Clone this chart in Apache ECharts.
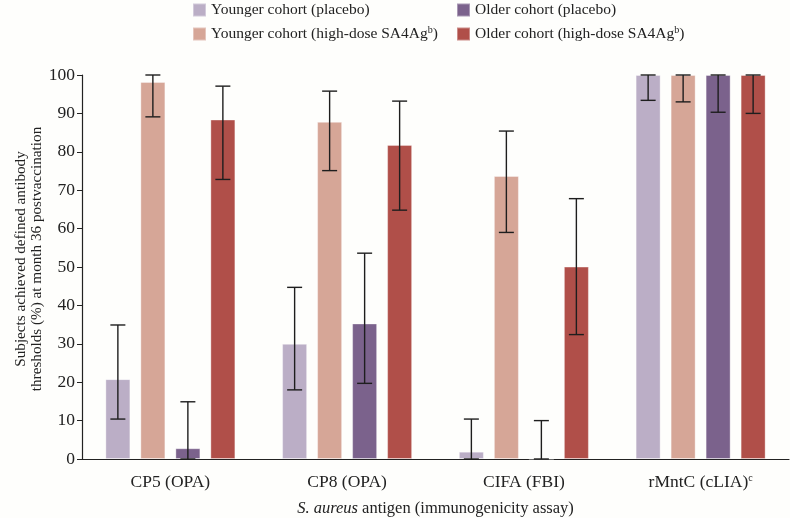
<!DOCTYPE html>
<html><head><meta charset="utf-8">
<script src="https://cdn.jsdelivr.net/npm/echarts@6/dist/echarts.min.js"></script>
<style>html,body{margin:0;padding:0;background:#fefefc}#c{width:790px;height:518px}</style>
</head><body><div id="c"></div>
<script>
const categories = ['CP5 (OPA)', 'CP8 (OPA)', 'CIFA (FBI)', 'rMntC (cLIA)'];
const seriesNames = ['Younger cohort (placebo)', 'Younger cohort (high-dose SA4Ag)', 'Older cohort (placebo)', 'Older cohort (high-dose SA4Ag)'];
const youngPlacebo = [20.8, 30.0, 1.9, 100];
const youngHigh = [98.2, 87.8, 73.7, 100];
const oldPlacebo = [2.8, 35.3, 0, 100];
const oldHigh = [88.4, 81.8, 50.1, 100];
const youngPlaceboLow = [10.4, 18.0, 0, 93.4];
const youngPlaceboHigh = [34.9, 44.7, 10.4, 100];
const youngHighLow = [89.1, 75.1, 59.0, 93.0];
const youngHighHigh = [100, 95.8, 85.4, 100];
const oldPlaceboLow = [0, 19.7, 0, 90.3];
const oldPlaceboHigh = [14.9, 53.6, 10.0, 100];
const oldHighLow = [72.8, 64.8, 32.4, 90.0];
const oldHighHigh = [97.1, 93.2, 67.8, 100];
const yTicks = [0, 10, 20, 30, 40, 50, 60, 70, 80, 90, 100];

const colors = ['#bbaec6', '#d6a697', '#7b628c', '#b04f49'];
const values = [youngPlacebo, youngHigh, oldPlacebo, oldHigh];
const lows = [youngPlaceboLow, youngHighLow, oldPlaceboLow, oldHighLow];
const highs = [youngPlaceboHigh, youngHighHigh, oldPlaceboHigh, oldHighHigh];
const FONT = '"Liberation Serif", "DejaVu Serif", serif';
const BW = 25, GAP = 10;

const errData = [];
for (let s = 0; s < 4; s++) for (let c = 0; c < categories.length; c++) errData.push([c, lows[s][c], highs[s][c], s]);

const series = seriesNames.map((n, i) => ({
  name: n, type: 'bar', data: values[i], barWidth: BW, barGap: (GAP / BW * 100) + '%',
  itemStyle: { color: colors[i], borderColor: 'rgba(255,255,255,0.35)', borderWidth: 1 }
}));
series.push({
  type: 'custom', data: errData, z: 10, silent: true,
  renderItem: function (params, api) {
    const c = api.value(0), lo = api.value(1), hi = api.value(2), s = api.value(3);
    const off = (s - 1.5) * (BW + GAP);
    const pLo = api.coord([c, lo]), pHi = api.coord([c, hi]);
    const x = pLo[0] + off, cap = 7.5;
    const st = { stroke: '#1e1e1e', lineWidth: 1.4, fill: null };
    return { type: 'group', children: [
      { type: 'line', shape: { x1: x, y1: pLo[1], x2: x, y2: pHi[1] }, style: st },
      { type: 'line', shape: { x1: x - cap, y1: pHi[1], x2: x + cap, y2: pHi[1] }, style: st },
      { type: 'line', shape: { x1: x - cap, y1: pLo[1], x2: x + cap, y2: pLo[1] }, style: st }
    ]};
  }
});

const legendBase = {
  icon: 'rect', itemWidth: 13, itemHeight: 13, itemGap: 5, padding: 0,
  textStyle: { fontFamily: FONT, fontSize: 15.5, color: '#222',
    rich: { s: { fontFamily: FONT, fontSize: 10, color: '#222', padding: [0, 0, 8, 0] } } },
  formatter: n => n.replace('SA4Ag)', 'SA4Ag{s|b})')
};
const legendPos = [[192, 2], [192, 25], [456, 2], [456, 25]];
const legends = seriesNames.map((n, i) => Object.assign({}, legendBase, { data: [n], left: legendPos[i][0], top: legendPos[i][1] }));

const chart = echarts.init(document.getElementById('c'));
chart.setOption({
  backgroundColor: '#fefefc',
  animation: false,
  color: colors,
  legend: legends,
  grid: { left: 82, right: 1, top: 75, bottom: 59, containLabel: false, outerBoundsMode: 'none' },
  xAxis: {
    type: 'category', data: categories,
    axisLine: { lineStyle: { color: '#222', width: 1.2 } },
    axisTick: { alignWithLabel: true, length: 6, lineStyle: { color: '#222' } },
    axisLabel: { fontFamily: FONT, fontSize: 17.5, color: '#222', margin: 14,
      formatter: v => v === 'rMntC (cLIA)' ? v + '{s|c}' : v,
      rich: { s: { fontFamily: FONT, fontSize: 10, color: '#222', padding: [0, 0, 9, 0] } } },
    name: '{i|S. aureus} antigen (immunogenicity assay)',
    nameLocation: 'middle', nameGap: 41, nameMoveOverlap: false,
    nameTextStyle: { fontFamily: FONT, fontSize: 16.5, color: '#222',
      rich: { i: { fontFamily: FONT, fontSize: 16.5, fontStyle: 'italic', color: '#222' } } }
  },
  yAxis: {
    type: 'value', min: 0, max: 100, interval: 10,
    axisLine: { show: true, lineStyle: { color: '#222', width: 1.2 } },
    axisTick: { show: true, length: 5, lineStyle: { color: '#222' } },
    splitLine: { show: false },
    axisLabel: { fontFamily: FONT, fontSize: 17.5, color: '#222', margin: 7,
      formatter: v => yTicks.includes(v) ? String(v) : '' },
    name: 'Subjects achieved defined antibody\nthresholds (%) at month 36 postvaccination',
    nameLocation: 'middle', nameGap: 37, nameRotate: 90, nameMoveOverlap: false,
    nameTextStyle: { fontFamily: FONT, fontSize: 15.2, color: '#222', lineHeight: 16, padding: [0, 0, 0, 16] }
  },
  series: series
});
</script></body></html>
